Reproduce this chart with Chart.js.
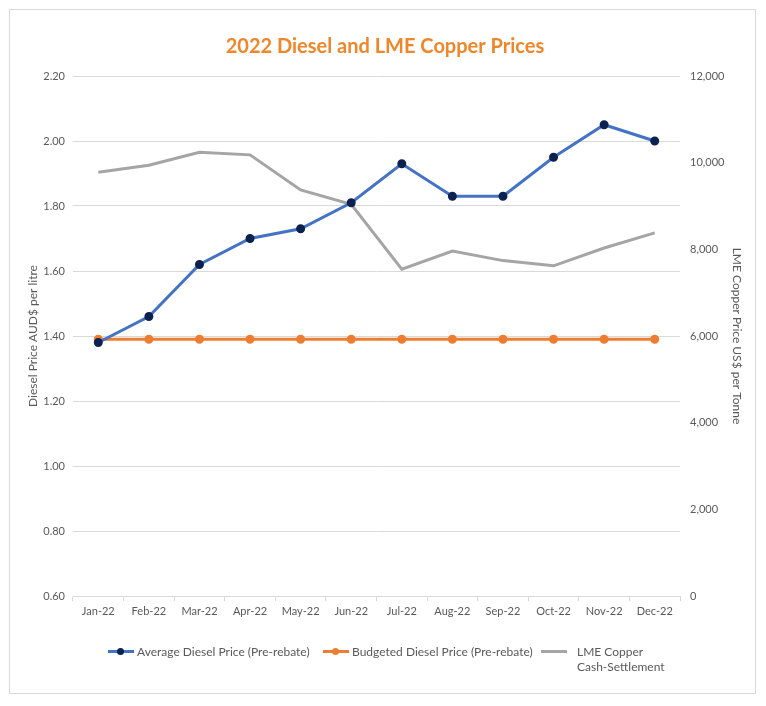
<!DOCTYPE html>
<html>
<head>
<meta charset="utf-8">
<script src="https://cdn.jsdelivr.net/npm/chart.js@4.4.1/dist/chart.umd.min.js"></script>
<style>
  body { margin: 0; background: #fff; }
  #wrap { position: relative; width: 766px; height: 706px; }
  #frame { position: absolute; left: 9px; top: 9px; width: 747px; height: 685px; border: 1px solid #d9d9d9; box-sizing: border-box; }
  canvas { position: absolute; left: 0; top: 0; }
  #legend { position: absolute; top: 644px; left: 0; width: 766px; font-family: Lato, "Open Sans", sans-serif; font-size: 12px; color: #595959; }
  .item { position: absolute; display: flex; align-items: flex-start; line-height: 15px; }
  .sym { position: relative; width: 26px; height: 15px; margin-right: 3px; }
  .sym .ln { position: absolute; left: 0; right: 0; top: 6px; height: 3px; }
  .sym .dot { position: absolute; left: 9px; top: 4px; width: 7px; height: 7px; border-radius: 50%; }
</style>
</head>
<body>
<div id="wrap">
  <div id="frame"></div>
  <canvas id="dieselChart" width="766" height="706"></canvas>
  <div id="legend"></div>
</div>
<script>
// data
const labelBulan = ["Jan-22", "Feb-22", "Mar-22", "Apr-22", "May-22", "Jun-22", "Jul-22", "Aug-22", "Sep-22", "Oct-22", "Nov-22", "Dec-22"];
const dataAverageDiesel = [1.38, 1.46, 1.62, 1.70, 1.73, 1.81, 1.93, 1.83, 1.83, 1.95, 2.05, 2.00];
const dataBudgetDiesel = [1.39, 1.39, 1.39, 1.39, 1.39, 1.39, 1.39, 1.39, 1.39, 1.39, 1.39, 1.39];
const dataCopper = [9780, 9940, 10240, 10180, 9370, 9040, 7540, 7960, 7740, 7620, 8030, 8380];
const legendText = ["Average Diesel Price (Pre-rebate)", "Budgeted Diesel Price (Pre-rebate)", "LME Copper<br>Cash-Settlement"];

const fontName = "Lato, 'Open Sans', sans-serif";
const grey = "#595959";

const dieselChart = document.getElementById("dieselChart");

new Chart(dieselChart, {
  type: "line",
  data: {
    labels: labelBulan,
    datasets: [
      {
        label: "Average Diesel Price (Pre-rebate)",
        data: dataAverageDiesel,
        borderColor: "#4472C4",
        backgroundColor: "#0B2150",
        pointBorderColor: "#0B2150",
        pointRadius: 3,
        borderWidth: 3,
        yAxisID: "y",
        order: 1,
      },
      {
        label: "Budgeted Diesel Price (Pre-rebate)",
        data: dataBudgetDiesel,
        borderColor: "#ED7D31",
        backgroundColor: "#ED7D31",
        pointBorderColor: "#ED7D31",
        pointRadius: 3,
        borderWidth: 3,
        yAxisID: "y",
        order: 2,
      },
      {
        label: "LME Copper Cash-Settlement",
        data: dataCopper,
        borderColor: "#A5A5A5",
        backgroundColor: "#A5A5A5",
        pointRadius: 0,
        borderWidth: 3,
        yAxisID: "y1",
        order: 3,
      },
    ],
  },
  options: {
    responsive: false,
    animation: false,
    layout: { padding: { left: 26, right: 22, top: 0, bottom: 86 } },
    plugins: {
      legend: { display: false },
      tooltip: { enabled: false },
      title: {
        display: true,
        text: "2022 Diesel and LME Copper Prices",
        color: "#F0862A",
        font: { family: fontName, size: 20, weight: "bold" },
        padding: { top: 35, bottom: 17 },
      },
    },
    scales: {
      x: {
        offset: true,
        grid: { display: true, drawOnChartArea: false, offset: true, tickLength: 5, color: "#D9D9D9" },
        border: { color: "#D9D9D9" },
        ticks: { color: grey, font: { family: fontName, size: 11 }, padding: 4, maxRotation: 0 },
        afterFit: (s) => { s.height = 24; },
      },
      y: {
        position: "left",
        min: 0.6,
        max: 2.2,
        ticks: { stepSize: 0.2, color: grey, font: { family: fontName, size: 11 }, padding: 8, callback: (v) => v.toFixed(2) },
        grid: { color: "#D9D9D9", drawTicks: false },
        border: { display: false },
        title: { display: true, text: "Diesel Price AUD$ per litre", color: grey, font: { family: fontName, size: 12 }, padding: 0 },
        afterFit: (s) => { s.width = 47; },
      },
      y1: {
        position: "right",
        min: 0,
        max: 12000,
        ticks: { stepSize: 2000, color: grey, font: { family: fontName, size: 11 }, padding: 10, callback: (v) => v.toLocaleString("en-US") },
        grid: { drawOnChartArea: false, drawTicks: false },
        border: { display: false },
        title: { display: true, text: "LME Copper Price US$ per Tonne", color: grey, font: { family: fontName, size: 12 }, padding: 0 },
        afterFit: (s) => { s.width = 64; },
      },
    },
  },
});

// legend
const legendEl = document.getElementById("legend");
const legendLeft = [108, 323, 541];
const legendLine = ["#4472C4", "#ED7D31", "#A5A5A5"];
const legendDot = ["#0B2150", "#ED7D31", null];
legendText.forEach((t, i) => {
  const item = document.createElement("div");
  item.className = "item";
  item.style.left = legendLeft[i] + "px";
  const dot = legendDot[i] ? '<span class="dot" style="background:' + legendDot[i] + '"></span>' : "";
  item.innerHTML = '<span class="sym" style="' + (i === 2 ? "margin-right:10px" : "") + '"><span class="ln" style="background:' + legendLine[i] + '"></span>' + dot + "</span><span>" + t + "</span>";
  legendEl.appendChild(item);
});
</script>
</body>
</html>
